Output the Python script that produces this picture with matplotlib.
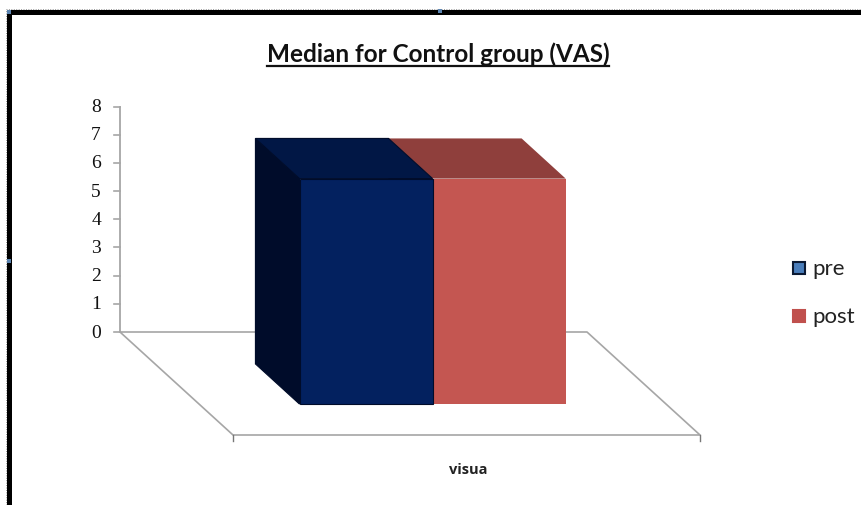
import matplotlib
matplotlib.use('Agg')
import matplotlib.pyplot as plt
from matplotlib.patches import Polygon, Rectangle

categories = ['visua']
series_names = ['pre', 'post']
pre_values = [8]
post_values = [8]
y_ticks = [0, 1, 2, 3, 4, 5, 6, 7, 8]

W, H = 861, 506
X0, X1 = 120, 587      # back edge of the floor
Y0, Y8 = 333, 107.5    # value 0 and value 8 on the wall
DEPTH_X, DEPTH_Y = 113, 103
UNIT_Y = (Y0 - Y8) / 8.0
UNIT_X = float(X1 - X0)

fig = plt.figure(figsize=(W / 100, H / 100), dpi=100)
ax = fig.add_axes([0, 0, 1, 1])
ax.set_xlim(-X0 / UNIT_X, (W - X0) / UNIT_X)
ax.set_ylim(-(H - Y0) / UNIT_Y, Y0 / UNIT_Y)
ax.axis('off')

dx = DEPTH_X / UNIT_X
dy = DEPTH_Y / UNIT_Y
grey = '#a6a6a6'
narrow = ['Liberation Sans Narrow', 'Lato']


def sx(p):
    return (p - X0) / UNIT_X


def sy(p):
    return (Y0 - p) / UNIT_Y


def proj(x, v, d):
    # oblique projection: d runs from the wall (0) to the front of the floor (1)
    return (x + dx * d, v - dy * d)


def box(x, w, v, d0, d1, front, top, side, edge):
    ax.add_patch(Polygon([proj(x, 0, d0), proj(x, v, d0), proj(x, v, d1), proj(x, 0, d1)],
                         fc=side, ec=edge, lw=0.8, zorder=3))
    ax.add_patch(Polygon([proj(x, v, d0), proj(x + w, v, d0), proj(x + w, v, d1), proj(x, v, d1)],
                         fc=top, ec=edge, lw=0.8, zorder=3))
    ax.add_patch(Polygon([proj(x, 0, d1), proj(x + w, 0, d1), proj(x + w, v, d1), proj(x, v, d1)],
                         fc=front, ec=edge, lw=0.8, zorder=4))


# floor and value axis
ax.plot([0, 0], [0, 8], color=grey, lw=1.3, zorder=1)
for t in y_ticks:
    ax.plot([-6 / UNIT_X, 0], [t, t], color=grey, lw=1.2, zorder=1)
    ax.text(-24 / UNIT_X, t, str(t), ha='center', va='center',
            family='Liberation Serif', fontsize=14, color='#111111')
floor = [proj(0, 0, 0), proj(1, 0, 0), proj(1, 0, 1), proj(0, 0, 1), proj(0, 0, 0)]
ax.plot([p[0] for p in floor], [p[1] for p in floor], color=grey, lw=1.2, zorder=1)
for x in [0, 1]:
    fx, fy = proj(x, 0, 1)
    ax.plot([fx, fx], [fy, fy - 6 / UNIT_Y], color='#777777', lw=1.0, zorder=1)

# the two bars, red first so the navy top overlaps it
bar_w = 0.285
box(0.5, bar_w, post_values[0], 0.31, 0.70, '#c45651', '#8f3f3c', '#8f3f3c', 'none')
box(0.5 - bar_w, bar_w, pre_values[0], 0.31, 0.70, '#03215f', '#011745', '#000c2a', '#000c2a')

ax.text(sx(468), sy(470), categories[0], ha='center', va='center',
        family='Open Sans', fontweight='bold', fontsize=10.5, color='#222222')

# title with underline
ax.text(sx(438), sy(54), 'Median for Control group (VAS)', ha='center', va='center',
        family='Lato', fontweight='bold', fontsize=17.5, color='#111111')
ax.plot([sx(267), sx(609)], [sy(67), sy(67)], color='#111111', lw=1.6)

# legend
legend_y = [269, 317]
swatch = ['#4a7ebb', '#c0504d']
swatch_edge = ['#0b1a33', '#c0504d']
for name, py, c, e in zip(series_names, legend_y, swatch, swatch_edge):
    ax.add_patch(Rectangle((sx(793), sy(py + 6)), 12 / UNIT_X, 12 / UNIT_Y, fc=c, ec=e, lw=1.5))
    ax.text(sx(812), sy(py), name, ha='left', va='center',
            family=narrow, fontsize=16, color='#222222')

# black frame round the chart, open on the right, with a faint dotted outline
frame = dict(color='black', lw=3.6, solid_capstyle='butt', zorder=6)
ax.plot([sx(9), sx(9)], [sy(506), sy(13)], **frame)
ax.plot([sx(7), sx(861)], [sy(13), sy(13)], **frame)
dots = dict(color='#9a9a9a', lw=0.7, ls=(0, (1, 1.5)), zorder=5)
ax.plot([sx(6), sx(6)], [sy(506), sy(10)], **dots)
ax.plot([sx(6), sx(861)], [sy(10), sy(10)], **dots)
for hx, hy in [(9, 13), (440, 12), (9, 262)]:
    ax.add_patch(Rectangle((sx(hx - 2), sy(hy + 2)), 4 / UNIT_X, 4 / UNIT_Y,
                           fc='#5b84b1', ec='none', zorder=7))

fig.savefig('out.png', dpi=100)
